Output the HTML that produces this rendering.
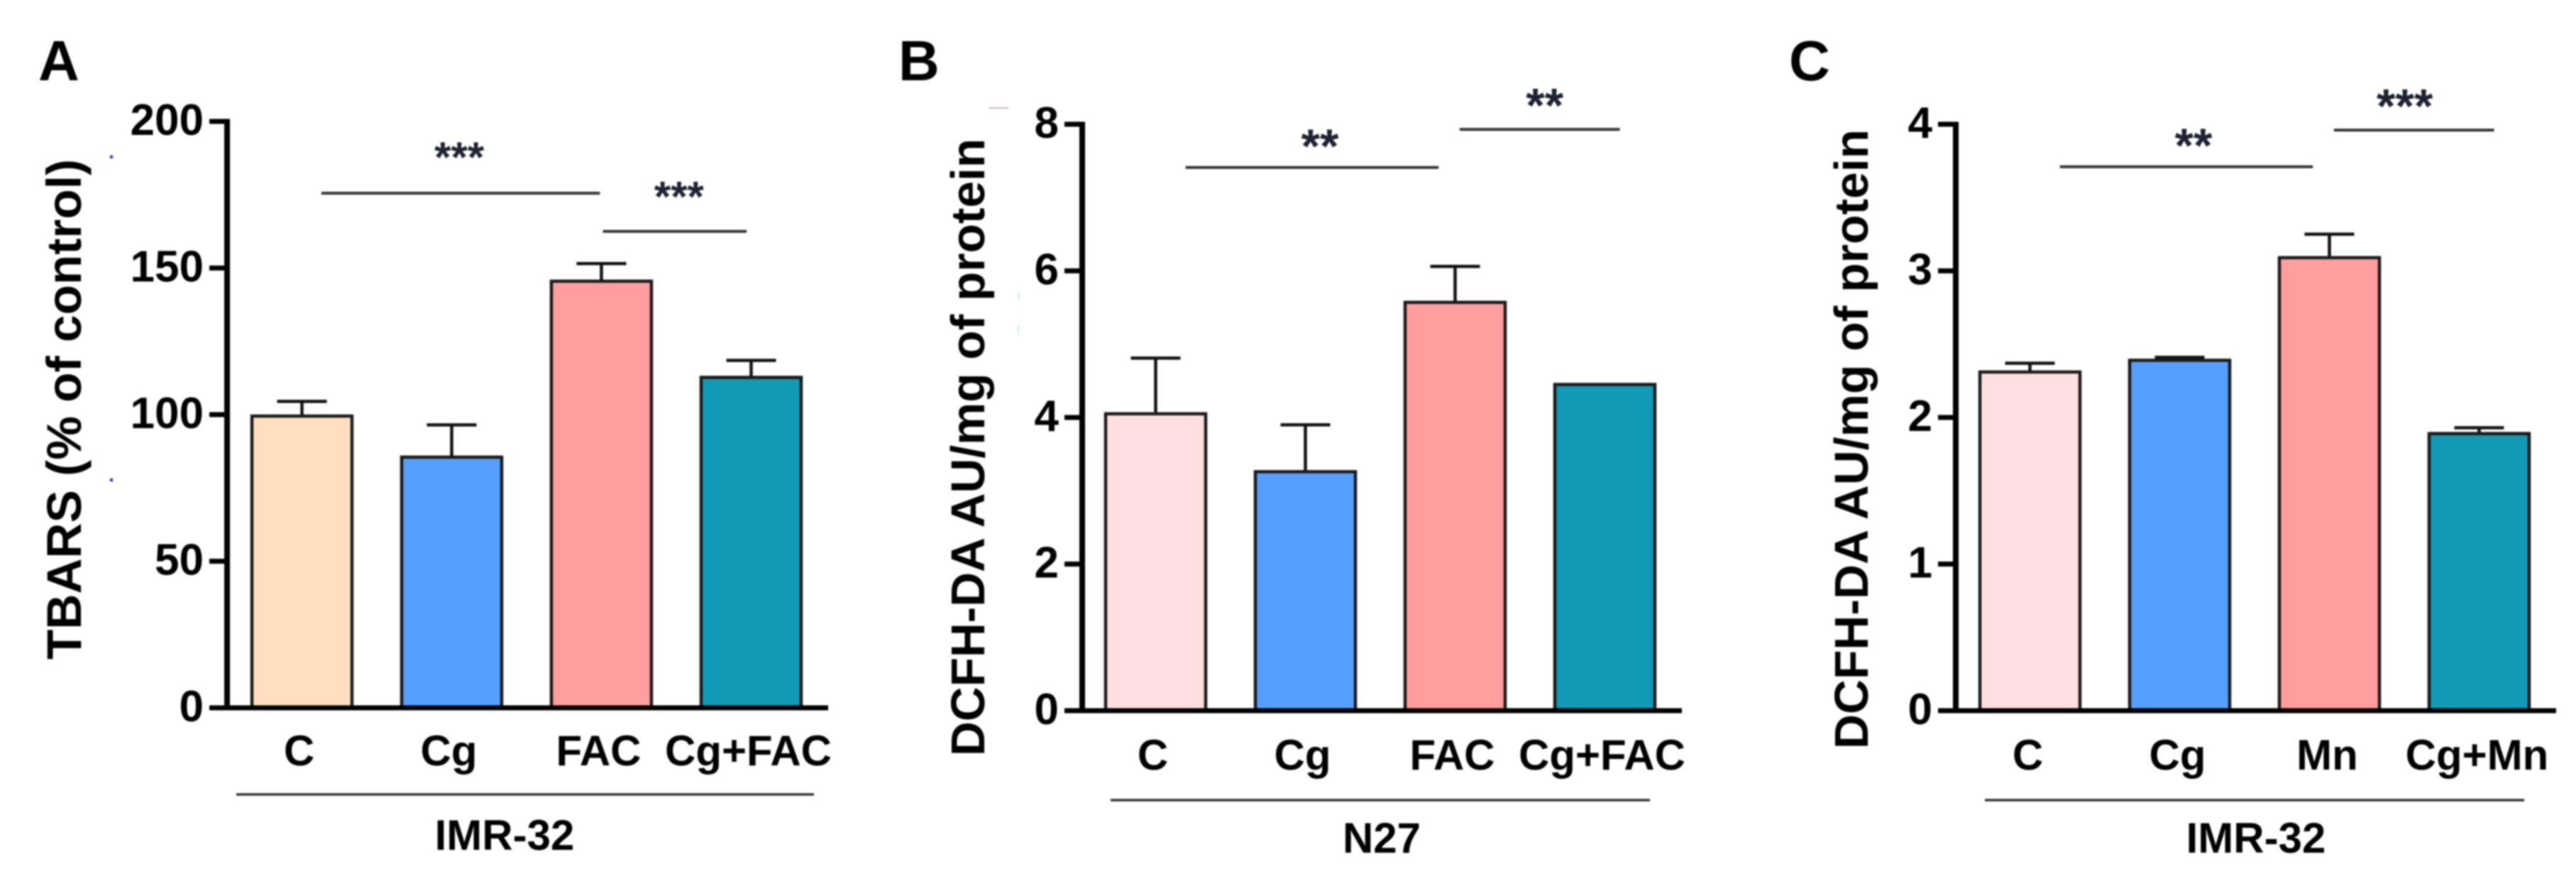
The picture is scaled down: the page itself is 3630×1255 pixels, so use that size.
<!DOCTYPE html>
<html lang="en">
<head>
<meta charset="utf-8">
<title>TBARS and DCFH-DA bar charts</title>
<style>
html,body{margin:0;padding:0;background:#fff;width:3630px;height:1255px;overflow:hidden}
svg{display:block;filter:blur(1.1px)}
text{font-family:"Liberation Sans",sans-serif;font-weight:700;fill:#000}
</style>
</head>
<body>
<svg id="figure" xmlns="http://www.w3.org/2000/svg" width="3630" height="1255" viewBox="0 0 3630 1255">
  <rect width="3630" height="1255" fill="#fff"/>
  <text x="54" y="113" font-size="80">A</text>
  <text x="1266" y="113" font-size="80">B</text>
  <text x="2521" y="113" font-size="80">C</text>
  <text transform="translate(114 929) rotate(-90)" font-size="69" textLength="705" lengthAdjust="spacingAndGlyphs">TBARS (% of control)</text>
  <text transform="translate(1387 1065) rotate(-90)" font-size="67" textLength="870" lengthAdjust="spacingAndGlyphs">DCFH-DA AU/mg of protein</text>
  <text transform="translate(2632 1055) rotate(-90)" font-size="67" textLength="873" lengthAdjust="spacingAndGlyphs">DCFH-DA AU/mg of protein</text>
  <line x1="333" x2="1147" y1="1119" y2="1119" stroke="#333" stroke-width="3.5"/>
  <line x1="1565" x2="2325" y1="1127" y2="1127" stroke="#333" stroke-width="3.5"/>
  <line x1="2797" x2="3557" y1="1127" y2="1127" stroke="#333" stroke-width="3.5"/>
  <text x="711" y="1197" font-size="60" text-anchor="middle">IMR-32</text>
  <text x="1947" y="1201" font-size="60" text-anchor="middle">N27</text>
  <text x="3179" y="1201" font-size="60" text-anchor="middle">IMR-32</text>
  <circle cx="157" cy="221" r="2.5" fill="#3344bb"/>
  <circle cx="157" cy="676" r="2.5" fill="#3344bb"/>
  <rect x="1393" y="151" width="28" height="2" fill="#c9b9c0"/>
  <rect x="1434" y="410" width="2" height="12" fill="#bdeff0"/>
  <rect x="1434" y="458" width="2" height="12" fill="#bdeff0"/>
</svg>
<script>
// Panel A data
const categoriesA = ["C", "Cg", "FAC", "Cg+FAC"];
const valuesA = [99.5, 85.5, 145.5, 112.7];
const errorsA = [5, 11, 6, 5.8];
const ticksA = [0, 50, 100, 150, 200];
const sigLevelsA = [175.5, 162.5];
const sigStartsA = [0.13, 2.01];
const sigEndsA = [1.99, 2.97];
const sigLabelsA = ["***", "***"];
// Panel B data
const categoriesB = ["C", "Cg", "FAC", "Cg+FAC"];
const valuesB = [4.05, 3.26, 5.57, 4.45];
const errorsB = [0.76, 0.64, 0.49, 0];
const ticksB = [0, 2, 4, 6, 8];
const sigLevelsB = [7.41, 7.93];
const sigStartsB = [0.2, 2.03];
const sigEndsB = [1.89, 3.1];
const sigLabelsB = ["**", "**"];
// Panel C data
const categoriesC = ["C", "Cg", "Mn", "Cg+Mn"];
const valuesC = [2.31, 2.39, 3.09, 1.89];
const errorsC = [0.06, 0.02, 0.16, 0.04];
const ticksC = [0, 1, 2, 3, 4];
const sigLevelsC = [3.71, 3.96];
const sigStartsC = [0.2, 2.03];
const sigEndsC = [1.89, 3.1];
const sigLabelsC = ["**", "***"];

const fillsWarm = ["#FFDFBF", "#569FFF", "#FF9E9E", "#119AB5"];
const fillsPink = ["#FFDFE0", "#569FFF", "#FF9E9E", "#119AB5"];

const svg = document.getElementById("figure");
const NS = "http://www.w3.org/2000/svg";

function make(tag, attrs) {
  const el = document.createElementNS(NS, tag);
  for (const k in attrs) el.setAttribute(k, attrs[k]);
  svg.appendChild(el);
  return el;
}

function drawPanel(p) {
  const yScale = v => p.y0 - (v / p.yMax) * (p.y0 - p.yTop);
  const bandX = i => p.firstBar + i * p.step;
  const centerX = i => bandX(i) + p.barWidth / 2;

  p.values.forEach((v, i) => {
    if (p.errors[i] > 0) {
      const top = yScale(v + p.errors[i]);
      const stem = make("line", {x1: centerX(i), x2: centerX(i), y1: yScale(v), y2: top, stroke: "#111", "stroke-width": 4.5});
      
      
      const cap = make("line", {x1: centerX(i) - 35, x2: centerX(i) + 35, y1: top, y2: top, stroke: "#111", "stroke-width": 4.5});
      
      
    }
    const bar = make("rect", {x: bandX(i), y: yScale(v), width: p.barWidth, height: p.y0 - yScale(v), fill: p.fills[i], stroke: "#1a1a1a", "stroke-width": 4.5});
    
    

    const label = make("text", {x: centerX(i) + p.labelDx, y: p.labelY, "font-size": 60, "text-anchor": "middle"});
    label.textContent = p.categories[i];
    
    
  });

  p.ticks.forEach(t => {
    const y = yScale(t);
    const tick = make("line", {x1: p.axisX - 25, x2: p.axisX, y1: y, y2: y, stroke: "#000", "stroke-width": 7});
    
    
    const label = make("text", {x: p.axisX - 33, y: y + 19, "font-size": 62, "text-anchor": "end"});
    label.textContent = t;
    
    
  });

  const yAxis = make("line", {x1: p.axisX, x2: p.axisX, y1: p.yTop - 3.5, y2: p.y0 + 3.5, stroke: "#000", "stroke-width": 8});
  
  
  const xAxis = make("line", {x1: p.axisX, x2: p.axisEnd, y1: p.y0, y2: p.y0, stroke: "#000", "stroke-width": 7});
  
  

  p.sigLevels.forEach((lvl, i) => {
    const y = yScale(lvl);
    const x1 = centerX(0) + p.sigStarts[i] * p.step;
    const x2 = centerX(0) + p.sigEnds[i] * p.step;
    const line = make("line", {x1: x1, x2: x2, y1: y, y2: y, stroke: "#333", "stroke-width": 4});
    
    
    const stars = make("text", {x: (x1 + x2) / 2 + p.starDx[i], y: y - p.starGap[i] + 0.56 * p.starSize, "font-size": p.starSize, "text-anchor": "middle"});
    stars.textContent = p.sigLabels[i];
    stars.style.fill = "#1c2230";
    
    
  });
}

drawPanel({
  id: "a", categories: categoriesA, values: valuesA, errors: errorsA, ticks: ticksA, fills: fillsWarm,
  sigLevels: sigLevelsA, sigStarts: sigStartsA, sigEnds: sigEndsA, sigLabels: sigLabelsA,
  yMax: 200, y0: 997, yTop: 171, axisX: 320, axisEnd: 1167, firstBar: 355, step: 211, barWidth: 141,
  labelDx: -4, labelY: 1078, starSize: 60, starGap: [64, 62], starDx: [-2, 6]
});
drawPanel({
  id: "b", categories: categoriesB, values: valuesB, errors: errorsB, ticks: ticksB, fills: fillsPink,
  sigLevels: sigLevelsB, sigStarts: sigStartsB, sigEnds: sigEndsB, sigLabels: sigLabelsB,
  yMax: 8, y0: 1001, yTop: 175, axisX: 1525, axisEnd: 2370, firstBar: 1558, step: 211, barWidth: 141,
  labelDx: -4, labelY: 1084, starSize: 68, starGap: [45, 49], starDx: [11, 7]
});
drawPanel({
  id: "c", categories: categoriesC, values: valuesC, errors: errorsC, ticks: ticksC, fills: fillsPink,
  sigLevels: sigLevelsC, sigStarts: sigStartsC, sigEnds: sigEndsC, sigLabels: sigLabelsC,
  yMax: 4, y0: 1001, yTop: 175, axisX: 2756, axisEnd: 3602, firstBar: 2790, step: 211, barWidth: 141,
  labelDx: -3, labelY: 1084, starSize: 68, starGap: [45, 49], starDx: [10, -13]
});
</script>
</body>
</html>
